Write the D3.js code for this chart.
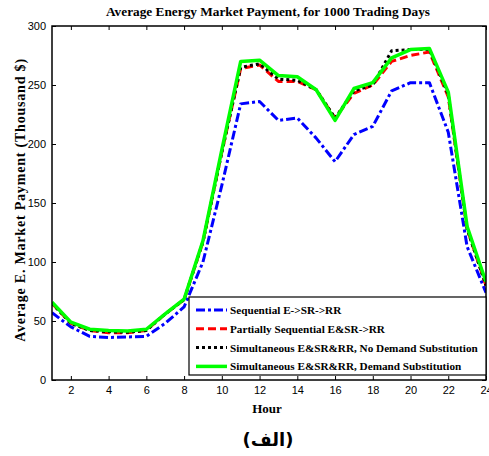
<!DOCTYPE html>
<html>
<head>
<meta charset="utf-8">
<script src="https://cdn.jsdelivr.net/npm/d3@7"></script>
<style>
  body { margin: 0; background: #fff; }
  .tick text { font-family: "Liberation Sans", Arial, sans-serif; font-size: 11px; }
</style>
</head>
<body>
<script>
// DATA
const hours = d3.range(1, 25);
const sequential = [57, 45, 37, 36, 36.5, 37, 48, 62, 100, 165, 234, 236, 220, 222, 205, 185, 208, 215, 245, 252, 252, 210, 113, 74];
const partial = [65, 48, 42, 40, 40, 42, 56, 68, 117, 193, 264, 267, 253, 253, 246, 222, 243, 250, 270, 275, 278, 240, 128, 80];
const noSubst = [65, 48, 42, 41, 40.5, 42, 56, 68, 117, 193, 265, 268, 255, 254, 246, 222, 245, 250, 279, 280, 280, 242, 128, 80];
const withSubst = [66, 49, 43, 42, 41.5, 43, 56, 68.5, 118, 195, 270, 271, 258, 257, 246, 220, 247, 252, 273, 280, 281, 244, 130, 83];
const xTicks = [2, 4, 6, 8, 10, 12, 14, 16, 18, 20, 22, 24];
const yTicks = [0, 50, 100, 150, 200, 250, 300];

const series = [
    {name: "Sequential E->SR->RR", values: sequential, color: "#0000ff", dash: "9,3,3,3", width: 3},
    {name: "Partially Sequential E&SR->RR", values: partial, color: "#ff0000", dash: "8,4", width: 3},
    {name: "Simultaneous E&SR&RR, No Demand Substitution", values: noSubst, color: "#000000", dash: "3,3", width: 3},
    {name: "Simultaneous E&SR&RR, Demand Substitution", values: withSubst, color: "#00ff00", dash: null, width: 3.5}
];

// DIMENSIONS
const margin = {top: 26, right: 3, bottom: 76, left: 52};
const width = 486 - 52;
const height = 380 - 26;

const svg = d3.select("body").append("svg")
    .attr("width", 489)
    .attr("height", 456);

const g = svg.append("g")
    .attr("transform", `translate(${margin.left}, ${margin.top})`);

// SCALES
const x = d3.scaleLinear().domain([1, 24]).range([0, width]);
const y = d3.scaleLinear().domain([0, 300]).range([height, 0]);

// AXES (ticks pointing inward)
g.append("g")
    .attr("transform", `translate(0, ${height})`)
    .call(d3.axisBottom(x).tickValues(xTicks).tickSizeInner(-4).tickSizeOuter(0).tickPadding(6))
    .call(a => a.select(".domain").remove());
g.append("g")
    .call(d3.axisTop(x).tickValues(xTicks).tickSizeInner(-4).tickSizeOuter(0).tickFormat(""))
    .call(a => a.select(".domain").remove());
g.append("g")
    .call(d3.axisLeft(y).tickValues(yTicks).tickSizeInner(-4).tickSizeOuter(0).tickPadding(6))
    .call(a => a.select(".domain").remove());
g.append("g")
    .attr("transform", `translate(${width}, 0)`)
    .call(d3.axisRight(y).tickValues(yTicks).tickSizeInner(-4).tickSizeOuter(0).tickFormat(""))
    .call(a => a.select(".domain").remove());

// LINES
const line = d3.line()
    .x((d, i) => x(hours[i]))
    .y(d => y(d));

g.append("defs").append("clipPath").attr("id", "clip")
    .append("rect").attr("width", width).attr("height", height);

series.forEach(s => {
    g.append("path")
        .datum(s.values)
        .attr("clip-path", "url(#clip)")
        .attr("fill", "none")
        .attr("stroke", s.color)
        .attr("stroke-width", s.width)
        .attr("stroke-dasharray", s.dash)
        .attr("stroke-linejoin", "round")
        .attr("d", line);
});

// FRAME
g.append("rect")
    .attr("width", width)
    .attr("height", height)
    .attr("fill", "none")
    .attr("stroke", "#000")
    .attr("stroke-width", 1.5);

// LEGEND
const legend = g.append("g")
    .attr("transform", `translate(${189 - margin.left}, ${297 - margin.top})`);
legend.append("rect")
    .attr("width", 297)
    .attr("height", 78)
    .attr("fill", "#fff")
    .attr("stroke", "#000")
    .attr("stroke-width", 1.2);
series.forEach((s, i) => {
    const ly = 13 + i * 18.8;
    legend.append("line")
        .attr("x1", 7).attr("x2", 38)
        .attr("y1", ly).attr("y2", ly)
        .attr("stroke", s.color)
        .attr("stroke-width", s.width)
        .attr("stroke-dasharray", s.dash);
    legend.append("text")
        .attr("x", 41)
        .attr("y", ly + 4)
        .style("font-family", "'Liberation Serif', 'Times New Roman', serif")
        .style("font-weight", "bold")
        .style("font-size", "11.2px")
        .text(s.name);
});

// TITLES
svg.append("text")
    .attr("x", 268)
    .attr("y", 16)
    .attr("text-anchor", "middle")
    .style("font-family", "'Liberation Serif', 'Times New Roman', serif")
    .style("font-weight", "bold")
    .style("font-size", "13.3px")
    .text("Average Energy Market Payment, for 1000 Trading Days");

svg.append("text")
    .attr("x", 267)
    .attr("y", 413)
    .attr("text-anchor", "middle")
    .style("font-family", "'Liberation Serif', 'Times New Roman', serif")
    .style("font-weight", "bold")
    .style("font-size", "13px")
    .text("Hour");

svg.append("text")
    .attr("transform", "rotate(-90)")
    .attr("x", -200)
    .attr("y", 25)
    .attr("text-anchor", "middle")
    .style("font-family", "'Liberation Serif', 'Times New Roman', serif")
    .style("font-weight", "bold")
    .style("font-size", "14px")
    .style("letter-spacing", "0.8px")
    .text("Average E. Market Payment (Thousand $)");

svg.append("text")
    .attr("x", 268)
    .attr("y", 446)
    .attr("text-anchor", "middle")
    .style("font-family", "'DejaVu Sans', 'Noto Sans', sans-serif")
    .style("font-weight", "bold")
    .style("font-size", "18px")
    .text("(الف)");
</script>
</body>
</html>
